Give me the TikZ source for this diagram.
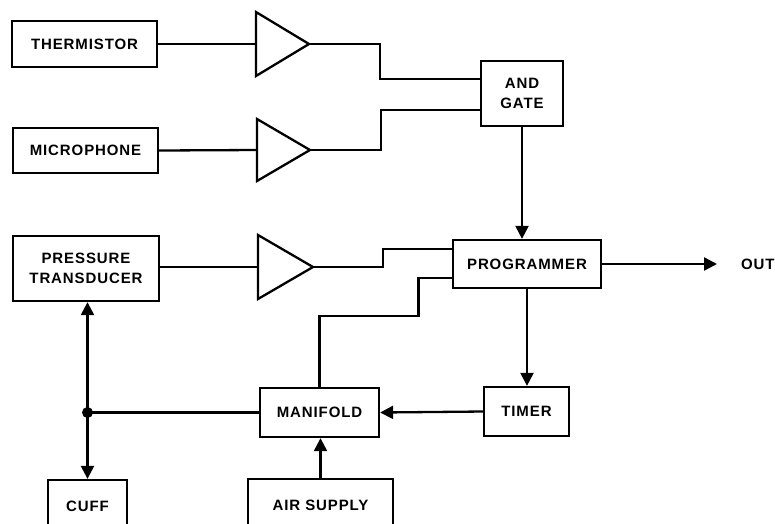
\documentclass[tikz,border=0pt]{standalone}
\usepackage{fontspec}
\setmainfont{Liberation Sans}[LetterSpace=6]
\usetikzlibrary{arrows.meta}
\begin{document}
\begin{tikzpicture}[x=1pt,y=-1pt,
  line width=2.3pt,
  box/.style={draw, line width=2.3pt, inner sep=0pt, align=center,
    font=\fontsize{15}{20}\selectfont\bfseries},
  amp/.style={draw, line width=2.3pt, line join=miter},
  arr/.style={-{Triangle[length=13pt,width=13pt]}},
  darr/.style={{Triangle[length=13pt,width=13pt]}-{Triangle[length=13pt,width=13pt]}},
  lbl/.style={inner sep=0pt, font=\fontsize{15}{20}\selectfont\bfseries}]
\useasboundingbox (0,0) rectangle (775,523);
\clip (0,0) rectangle (775,523);

% blocks
\node[box, minimum width=145, minimum height=46] (therm) at (84.5,44) {THERMISTOR};
\node[box, minimum width=145, minimum height=45] (mic) at (85.5,150.5) {MICROPHONE};
\node[box, minimum width=146, minimum height=65] (pt) at (86,268.5) {PRESSURE\\TRANSDUCER};
\node[box, minimum width=82, minimum height=65] (and) at (522,93.5) {AND\\GATE};
\node[box, minimum width=148, minimum height=48] (prog) at (527,264) {PROGRAMMER};
\node[box, minimum width=119, minimum height=49] (man) at (319.5,412.5) {MANIFOLD};
\node[box, minimum width=85, minimum height=49] (tim) at (526.5,411.5) {TIMER};
\node[box, minimum width=145, minimum height=52] (air) at (320.5,505) {AIR SUPPLY};
\node[box, minimum width=79, minimum height=52] (cuff) at (87.5,506) {CUFF};
\node[lbl, anchor=west] (out) at (740,264) {OUT};

% amplifiers (input and output points of each triangle)
\coordinate (a1i) at (256,44);  \coordinate (a1o) at (309,44);
\coordinate (a2i) at (257,150); \coordinate (a2o) at (310,150);
\coordinate (a3i) at (258,267); \coordinate (a3o) at (313,267);
\draw[amp] ([yshift=32pt]a1i) -- (a1o) -- ([yshift=-32pt]a1i) -- cycle;
\draw[amp] ([yshift=31pt]a2i) -- (a2o) -- ([yshift=-31pt]a2i) -- cycle;
\draw[amp] ([yshift=32pt]a3i) -- (a3o) -- ([yshift=-32pt]a3i) -- cycle;

% signal paths
\draw (therm.east) -- (a1i);
\draw (mic.east) -- (a2i);
\draw (pt.east |- a3i) -- (a3i);
\draw (a1o) -- ++(71,0) |- ([yshift=14.5pt]and.west);
\draw (a2o) -- ++(71,0) |- ([yshift=-16.5pt]and.west);
\draw[arr] (and.south) -- (and.south |- prog.north);
\draw (a3o) -- ++(70,0) |- ([yshift=15pt]prog.west);
\draw (man.north) -- ++(0,-71) -- ++(99,0) |- ([yshift=-14pt]prog.west);
\draw[arr] (prog.east) -- ([xshift=-23pt]out.west);
\draw[arr] (prog.south) -- (prog.south |- tim.north);
\draw[arr] (tim.west) -- (man.east);
\draw[arr] (air.north) -- (air.north |- man.south);

% pneumatic line between transducer, cuff and manifold
\coordinate (j) at (cuff.north |- man.west);
\draw[darr] (cuff.north |- pt.south) -- (cuff.north);
\draw (j) -- (man.west);
\fill (j) circle (5.5pt);
\end{tikzpicture}
\end{document}
